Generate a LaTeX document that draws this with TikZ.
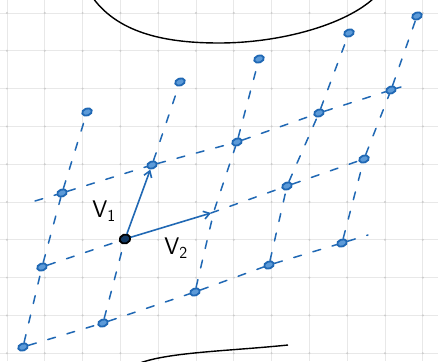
\documentclass[tikz,border=0pt]{standalone}
\usetikzlibrary{arrows.meta,shapes.geometric}
\definecolor{pen}{HTML}{2068B4}
\definecolor{penlight}{HTML}{5C9AD8}
\begin{document}
\begin{tikzpicture}[x=1pt,y=-1pt,
  gridline/.style={draw=black!9,line width=0.9pt},
  latt/.style={draw=pen,line width=1.5pt,dash pattern=on 8pt off 12pt,line cap=round},
  vecline/.style={draw=pen,line width=1.6pt,line cap=round,-{Straight Barb[length=6pt,width=8pt]}},
  ldot/.style={ellipse,draw=pen,fill=penlight,line width=1.8pt,minimum width=10pt,minimum height=7pt,inner sep=0pt,rotate=20},
  odot/.style={ellipse,draw=black,fill=black!45!pen,line width=1.8pt,minimum width=11pt,minimum height=9pt,inner sep=0pt,rotate=20},
  vlab/.style={font=\sffamily\fontsize{24}{26}\selectfont,text=black,inner sep=0pt},
  curve/.style={draw=black,line width=1.4pt}
]
\useasboundingbox (0,0) rectangle (438,361);
\fill[white] (0,0) rectangle (438,361);
% graph paper
\foreach \i in {0,...,11} \draw[gridline] ({7+37.8*\i},0) -- ({7+37.8*\i},361);
\foreach \j in {0,...,9} \draw[gridline] (0,{13+37.8*\j}) -- (438,{13+37.8*\j});
\foreach \i in {0,...,11} \foreach \j in {0,...,9} \fill[black!20] ({7+37.8*\i},{13+37.8*\j}) circle (1.1pt);
% black curves
\draw[curve] (93,-2) .. controls (120,35) and (170,43) .. (219,43) .. controls (280,43) and (345,25) .. (374,-2);
\draw[curve] (140,363) .. controls (170,352) and (230,351) .. (288,345);
% lattice points
\node[ldot] (m0) at (23,347) {};
\node[ldot] (m1) at (103,323) {};
\node[ldot] (m2) at (195,292) {};
\node[ldot] (m3) at (269,265) {};
\node[ldot] (m4) at (342,243) {};
\node[ldot] (z0) at (42,267) {};
\node[odot] (O)  at (125,239) {};
\coordinate (z2) at (214,211);
\coordinate (v2t) at (211,213);
\node[ldot] (z3) at (287,186) {};
\node[ldot] (z4) at (364,159) {};
\node[ldot] (a0) at (62,193) {};
\node[ldot] (a1) at (152,165) {};
\node[ldot] (a2) at (237,142) {};
\node[ldot] (a3) at (319,113) {};
\node[ldot] (a4) at (391,90) {};
\node[ldot] (b0) at (87,112) {};
\node[ldot] (b1) at (180,82) {};
\node[ldot] (b2) at (259,59) {};
\node[ldot] (b3) at (349,33) {};
\node[ldot] (b4) at (417,16) {};
\coordinate (me) at (368,235);
\coordinate (as) at (35,201);
\coordinate (ae) at (401,87);
% rows
\draw[latt] (m0) -- (m1) -- (m2) -- (m3) -- (m4) -- (me);
\draw[latt] (z0) -- (O);
\draw[latt] (v2t) -- (z3) -- (z4);
\draw[latt] (as) -- (a0) -- (a1) -- (a2) -- (a3) -- (a4) -- (ae);
% columns
\draw[latt] (m0) -- (z0) -- (a0) -- (b0);
\draw[latt] (m1) -- (O);
\draw[latt] (a1) -- (b1);
\draw[latt] (m2) -- (z2) -- (a2) -- (b2);
\draw[latt] (m3) -- (z3) -- (a3) -- (b3);
\draw[latt] (m4) -- (z4) -- (a4) -- (b4);
% basis vectors
\draw[vecline] (O) -- (a1);
\draw[vecline] (O) -- (v2t);
% labels
\node[vlab] (l1) at (104,211) {V\textsubscript{1}};
\node[vlab] (l2) at (176,248) {V\textsubscript{2}};
\end{tikzpicture}
\end{document}
